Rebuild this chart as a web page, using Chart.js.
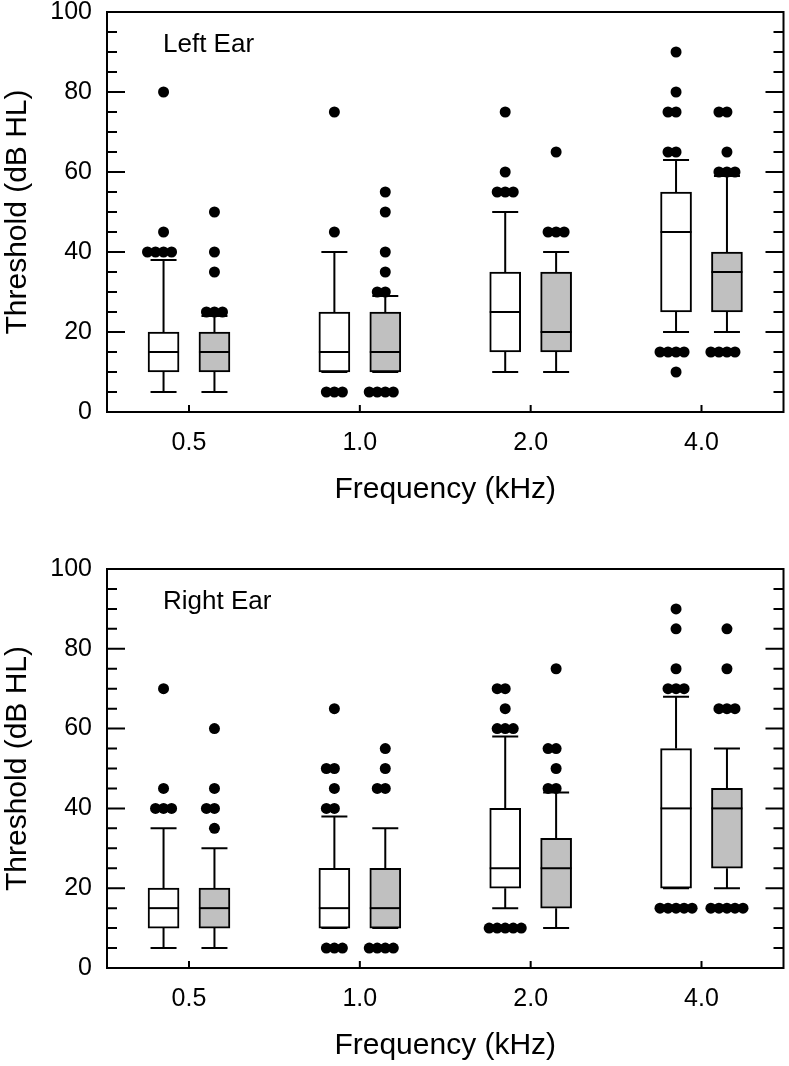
<!DOCTYPE html>
<html>
<head>
<meta charset="utf-8">
<script src="https://cdn.jsdelivr.net/npm/chart.js@4.4.1/dist/chart.umd.min.js"></script>
<style>
  html, body { margin: 0; padding: 0; background: #fff; }
  canvas { position: absolute; left: 0; }
</style>
</head>
<body>
<canvas id="leftEar" width="789" height="508" style="top:0px"></canvas>
<canvas id="rightEar" width="789" height="507" style="top:557px"></canvas>
<script>
// frequencies (x positions 1..4 on a linear axis, labelled in kHz)
const freqPos = [1, 2, 3, 4]
const freqLabels = ['0.5', '1.0', '2.0', '4.0']

// Left ear, open boxes
const leftOpenLo  = [5, 10, 10, 20]
const leftOpenQ1  = [10, 10, 15, 25]
const leftOpenMed = [15, 15, 25, 45]
const leftOpenQ3  = [20, 25, 35, 55]
const leftOpenHi  = [38, 40, 50, 63]
const leftOpenOut = [
  [40, 40, 40, 40, 45, 80],
  [5, 5, 5, 45, 75],
  [55, 55, 55, 60, 75],
  [10, 15, 15, 15, 15, 65, 65, 75, 75, 80, 90]
]

// Left ear, grey boxes
const leftFillLo  = [5, 10, 10, 20]
const leftFillQ1  = [10, 10, 15, 25]
const leftFillMed = [15, 15, 20, 35]
const leftFillQ3  = [20, 25, 35, 40]
const leftFillHi  = [24, 29, 40, 59]
const leftFillOut = [
  [25, 25, 25, 35, 40, 50],
  [5, 5, 5, 5, 30, 30, 35, 40, 50, 55],
  [45, 45, 45, 65],
  [15, 15, 15, 15, 60, 60, 60, 65, 75, 75]
]

// Right ear, open boxes
const rightOpenLo  = [5, 10, 15, 20]
const rightOpenQ1  = [10, 10, 20, 20]
const rightOpenMed = [15, 15, 25, 40]
const rightOpenQ3  = [20, 25, 40, 55]
const rightOpenHi  = [35, 38, 58, 68]
const rightOpenOut = [
  [40, 40, 40, 45, 70],
  [5, 5, 5, 40, 40, 45, 50, 50, 65],
  [10, 10, 10, 10, 10, 60, 60, 60, 65, 70, 70],
  [15, 15, 15, 15, 15, 70, 70, 70, 75, 85, 90]
]

// Right ear, grey boxes
const rightFillLo  = [5, 10, 10, 20]
const rightFillQ1  = [10, 10, 15, 25]
const rightFillMed = [15, 15, 25, 40]
const rightFillQ3  = [20, 25, 32.5, 45]
const rightFillHi  = [30, 35, 44, 55]
const rightFillOut = [
  [35, 40, 40, 45, 60],
  [5, 5, 5, 5, 45, 45, 50, 55],
  [45, 45, 50, 55, 55, 75],
  [15, 15, 15, 15, 15, 65, 65, 65, 75, 85]
]

const FONT = "'Liberation Sans', Arial, sans-serif"
const SHIFT = 0.149   // box offset from the frequency tick
const DOT_GAP = 0.047 // horizontal step between tied outliers
const GREY = '#c0c0c0'

// tied outliers are laid side by side
const spreadOutliers = (outLists, shift) => {
  let pts = []
  outLists.forEach((vals, i) => {
    let counts = {}
    vals.forEach(v => { counts[v] = (counts[v] || 0) + 1 })
    Object.keys(counts).forEach(k => {
      let n = counts[k]
      for (let j = 0; j < n; j++) {
        pts.push({ x: freqPos[i] + shift + (j - Math.floor(n / 2)) * DOT_GAP, y: +k })
      }
    })
  })
  return pts
}

const buildBoxSet = (q1, q3, med, lo, hi, shift, fill) => ({
  type: 'bar',
  data: freqPos.map((f, i) => ({ x: f + shift, y: [q1[i], q3[i]] })),
  backgroundColor: fill,
  borderColor: '#000',
  borderWidth: 2,
  borderSkipped: false,
  barThickness: 31,
  grouped: false,
  stats: { med, lo, hi, q1, q3 }
})

const buildDotSet = (outs, shift) => ({
  type: 'scatter',
  data: spreadOutliers(outs, shift),
  pointRadius: 5.5,
  pointBackgroundColor: '#000',
  pointBorderWidth: 0
})

// whiskers, medians, frame and inner ticks
const boxParts = {
  id: 'boxParts',
  beforeDatasetsDraw(chart) {
    const { ctx, scales: { x, y } } = chart
    ctx.save()
    ctx.strokeStyle = '#000'
    ctx.lineWidth = 2
    chart.data.datasets.forEach(ds => {
      if (!ds.stats) return
      ds.data.forEach((d, i) => {
        let px = x.getPixelForValue(d.x)
        let s = ds.stats
        let pLo = y.getPixelForValue(s.lo[i]), pHi = y.getPixelForValue(s.hi[i])
        ctx.beginPath()
        ctx.moveTo(px, y.getPixelForValue(s.q1[i])); ctx.lineTo(px, pLo)
        ctx.moveTo(px - 13, pLo); ctx.lineTo(px + 13, pLo)
        ctx.moveTo(px, y.getPixelForValue(s.q3[i])); ctx.lineTo(px, pHi)
        ctx.moveTo(px - 13, pHi); ctx.lineTo(px + 13, pHi)
        ctx.stroke()
      })
    })
    ctx.restore()
  },
  afterDatasetDraw(chart, args) {
    const ds = chart.data.datasets[args.index]
    if (!ds.stats) return
    const { ctx, scales: { y } } = chart
    ctx.save()
    ctx.strokeStyle = '#000'
    ctx.lineWidth = 2
    args.meta.data.forEach((el, i) => {
      let py = y.getPixelForValue(ds.stats.med[i])
      ctx.beginPath()
      ctx.moveTo(el.x - el.width / 2, py)
      ctx.lineTo(el.x + el.width / 2, py)
      ctx.stroke()
    })
    ctx.restore()
  },
  afterDraw(chart, args, opts) {
    const { ctx, chartArea: a, scales: { x, y } } = chart
    ctx.save()
    ctx.strokeStyle = '#000'
    ctx.lineWidth = 2
    ctx.strokeRect(a.left, a.top, a.right - a.left, a.bottom - a.top)
    ctx.beginPath()
    for (let v = 5; v < 100; v += 5) {
      let py = y.getPixelForValue(v)
      let len = v % 20 === 0 ? 18 : 10
      ctx.moveTo(a.left, py); ctx.lineTo(a.left + len, py)
      ctx.moveTo(a.right - len, py); ctx.lineTo(a.right, py)
    }
    freqPos.forEach(f => {
      let px = x.getPixelForValue(f)
      ctx.moveTo(px, a.bottom); ctx.lineTo(px, a.bottom - 7)
    })
    ctx.stroke()
    ctx.fillStyle = '#000'
    ctx.font = `26px ${FONT}`
    ctx.textBaseline = 'middle'
    ctx.fillText(opts.label, a.left + 56, a.top + 33)
    ctx.restore()
  }
}

const createChart = (id, label, sets) => {
  new Chart(document.getElementById(id), {
    data: { datasets: sets },
    plugins: [boxParts],
    options: {
      responsive: false,
      animation: false,
      devicePixelRatio: 1,
      layout: { padding: { top: 12, right: 4, bottom: 0, left: 0 } },
      plugins: {
        legend: { display: false },
        tooltip: { enabled: false },
        boxParts: { label }
      },
      scales: {
        x: {
          type: 'linear',
          min: 0.52,
          max: 4.48,
          offset: false,
          grid: { display: false, drawTicks: false },
          border: { display: false },
          afterBuildTicks: axis => { axis.ticks = freqPos.map(v => ({ value: v })) },
          afterFit: axis => {
            axis.height = 96
            axis.paddingLeft = 0
            axis.paddingRight = 0
          },
          ticks: {
            color: '#000',
            font: { family: FONT, size: 25 },
            padding: 16,
            maxRotation: 0,
            callback: v => freqLabels[freqPos.indexOf(v)]
          },
          title: {
            display: true,
            text: 'Frequency (kHz)',
            color: '#000',
            font: { family: FONT, size: 30 },
            padding: 0
          }
        },
        y: {
          min: 0,
          max: 100,
          grid: { display: false, drawTicks: false },
          border: { display: false },
          afterFit: axis => {
            axis.width = 107
            axis.paddingTop = 0
            axis.paddingBottom = 0
          },
          ticks: {
            stepSize: 20,
            color: '#000',
            font: { family: FONT, size: 25 },
            padding: 15
          },
          title: {
            display: true,
            text: 'Threshold (dB HL)',
            color: '#000',
            font: { family: FONT, size: 30 },
            padding: 0
          }
        }
      }
    }
  })
}

createChart('leftEar', 'Left Ear', [
  buildDotSet(leftOpenOut, -SHIFT),
  buildDotSet(leftFillOut, SHIFT),
  buildBoxSet(leftOpenQ1, leftOpenQ3, leftOpenMed, leftOpenLo, leftOpenHi, -SHIFT, '#fff'),
  buildBoxSet(leftFillQ1, leftFillQ3, leftFillMed, leftFillLo, leftFillHi, SHIFT, GREY)
])

createChart('rightEar', 'Right Ear', [
  buildDotSet(rightOpenOut, -SHIFT),
  buildDotSet(rightFillOut, SHIFT),
  buildBoxSet(rightOpenQ1, rightOpenQ3, rightOpenMed, rightOpenLo, rightOpenHi, -SHIFT, '#fff'),
  buildBoxSet(rightFillQ1, rightFillQ3, rightFillMed, rightFillLo, rightFillHi, SHIFT, GREY)
])
</script>
</body>
</html>
